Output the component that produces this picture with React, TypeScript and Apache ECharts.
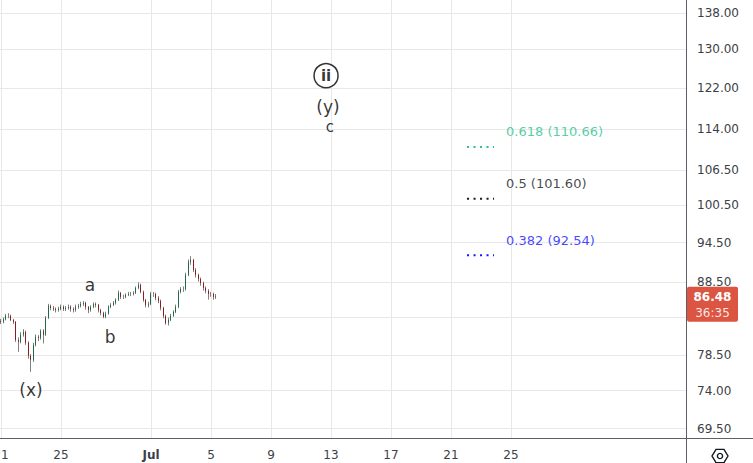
import React, { useEffect, useRef } from "react";
import * as echarts from "echarts";

// x axis: days counted from Jun 21
const xTickDays = [0, 4, 10, 14, 18, 22, 26, 30, 34];
const xTickLabels = ["21", "25", "Jul", "5", "9", "13", "17", "21", "25"];
const yTickPrices = [69.5, 74, 78.5, 83.5, 88.5, 94.5, 100.5, 106.5, 114, 122, 130, 138];

const candleStartDay = 0;
const candleStepDay = 1 / 6;
// [open, close, low, high]
const candles: number[][] = [
  [83.0, 82.9, 82.6, 83.3], [82.9, 83.24, 82.7, 83.5], [83.24, 83.72, 83.1, 84.0], [83.72, 83.72, 83.4, 84.1],
  [83.72, 83.17, 83.0, 83.9], [83.17, 82.9, 82.6, 83.3], [82.9, 80.47, 80.2, 83.0], [80.47, 80.2, 78.9, 80.8],
  [80.2, 81.14, 80.0, 81.5], [81.14, 81.54, 80.9, 81.9], [81.54, 80.07, 79.8, 81.7], [80.07, 78.37, 78.0, 80.3],
  [78.37, 77.86, 76.33, 78.6], [77.86, 79.81, 77.6, 80.1], [79.81, 80.87, 79.6, 81.2], [80.87, 80.74, 80.3, 81.1],
  [80.74, 81.68, 80.5, 81.9], [81.68, 81.14, 80.0, 81.9], [81.14, 83.45, 81.0, 83.7], [83.45, 85.11, 83.3, 85.4],
  [85.11, 84.83, 84.5, 85.3], [84.83, 84.69, 84.4, 85.1], [84.69, 84.55, 84.2, 84.9], [84.55, 84.69, 84.3, 85.0],
  [84.69, 84.97, 84.5, 85.3], [84.97, 84.69, 84.4, 85.2], [84.69, 84.83, 84.4, 85.1], [84.83, 84.97, 84.6, 85.3],
  [84.97, 84.69, 84.3, 85.2], [84.69, 84.55, 84.2, 84.9], [84.55, 84.97, 84.3, 85.3], [84.97, 85.11, 84.7, 85.4],
  [85.11, 85.39, 84.9, 85.7], [85.39, 85.53, 85.1, 85.8], [85.53, 84.97, 84.6, 85.7], [84.97, 84.55, 84.1, 85.1],
  [84.55, 84.97, 84.3, 85.2], [84.97, 85.39, 84.8, 85.6], [85.39, 85.25, 84.9, 85.6], [85.25, 84.55, 84.2, 85.4],
  [84.55, 84.13, 83.8, 84.7], [84.13, 83.58, 83.4, 84.3], [83.58, 84.0, 83.4, 84.3], [84.0, 84.97, 83.9, 85.2],
  [84.97, 85.25, 84.8, 85.5], [85.25, 85.53, 85.1, 85.8], [85.53, 85.96, 85.3, 86.2], [85.96, 86.96, 85.8, 87.3],
  [86.96, 86.39, 86.1, 87.1], [86.39, 86.39, 86.1, 86.7], [86.39, 86.67, 86.2, 86.9], [86.67, 86.81, 86.5, 87.1],
  [86.81, 86.81, 86.5, 87.1], [86.81, 86.96, 86.6, 87.2], [86.96, 87.68, 86.8, 87.9], [87.68, 88.11, 87.5, 88.5],
  [88.11, 87.1, 86.9, 88.3], [87.1, 85.96, 85.7, 87.3], [85.96, 85.25, 84.9, 86.1], [85.25, 85.39, 84.9, 85.7],
  [85.39, 86.81, 85.2, 87.1], [86.81, 86.81, 86.4, 87.1], [86.81, 86.24, 85.9, 87.0], [86.24, 85.82, 85.5, 86.5],
  [85.82, 84.83, 84.5, 86.0], [84.83, 83.72, 83.4, 85.0], [83.72, 82.76, 82.5, 83.9], [82.76, 83.17, 82.4, 83.5],
  [83.17, 83.72, 83.0, 84.0], [83.72, 84.27, 83.6, 84.5], [84.27, 84.97, 84.1, 85.3], [84.97, 87.1, 84.8, 87.4],
  [87.1, 87.53, 86.9, 87.8], [87.53, 87.53, 87.1, 87.9], [87.53, 89.58, 87.3, 89.9], [89.58, 91.53, 89.4, 91.9],
  [91.53, 91.83, 91.1, 92.4], [91.83, 90.32, 90.0, 92.0], [90.32, 89.58, 89.2, 90.6], [89.58, 88.99, 88.6, 89.8],
  [88.99, 88.4, 88.0, 89.2], [88.4, 87.68, 87.3, 88.6], [87.68, 87.25, 86.9, 87.9], [87.25, 86.81, 86.0, 87.5],
  [86.81, 86.81, 86.4, 87.1], [86.81, 86.39, 86.0, 87.0], [86.39, 86.48, 86.1, 86.8],
];

const lastPrice = 86.48;
const countdown = "36:35";

const waveLabels = ["(y)", "c", "a", "b", "(x)"];
const waveDays = [21.8, 21.93, 5.93, 7.27, 2.0];
const wavePrices = [118.2, 114.4, 88.1, 80.9, 74.1];
const waveSizes = [17, 15, 17, 17, 17];
const circledLabel = "ii";
const circledDay = 21.67;
const circledPrice = 124.5;

const fibRatios = ["0.618", "0.5", "0.382"];
const fibPrices = [110.66, 101.6, 92.54];
const fibColors = ["#2bbf8e", "#131722", "#1414ff"];
const fibStartDay = 31.07;
const fibEndDay = 32.87;

const X_MIN = -1 / 15;
const X_MAX = 45.667;
const Y_MIN = 68.43;
const Y_MAX = 141.07;

const FONT = "DejaVu Sans";
const ln = Math.log;

export default function App() {
  const ref = useRef<HTMLDivElement>(null);
  useEffect(() => {
    document.body.style.margin = "0";
    if (!ref.current) return;
    const chart = echarts.init(ref.current, undefined, { renderer: "svg" });

    const wickData = candles.map((c, i) => [
      candleStartDay + i * candleStepDay, ln(c[0]), ln(c[1]), ln(c[2]), ln(c[3]),
    ]);
    const bodyData = candles.map((c, i) => [
      candleStartDay + i * candleStepDay, ln(c[0]), ln(c[1]),
      ln(Math.min(c[0], c[1])), ln(Math.max(c[0], c[1])),
    ]);

    const fibLineSeries = fibPrices.map((p, k) => ({
      type: "line",
      data: [[fibStartDay, ln(p)], [fibEndDay, ln(p)]],
      symbol: "none",
      silent: true,
      lineStyle: { color: fibColors[k], width: 2, type: [2, 4.5] },
      z: 5,
    }));

    const fibLabelSeries = {
      type: "scatter",
      symbolSize: 0,
      silent: true,
      data: fibPrices.map((p, k) => ({
        value: [fibEndDay, ln(p)],
        label: {
          show: true,
          position: "right",
          distance: 12,
          offset: [0, -15],
          formatter: `${fibRatios[k]} (${p.toFixed(2)})`,
          color: fibColors[k],
          fontFamily: FONT,
          fontSize: 13,
        },
      })),
      z: 6,
    };

    const waveSeries = {
      type: "scatter",
      symbolSize: 0,
      silent: true,
      data: waveLabels.map((t, k) => ({
        value: [waveDays[k], ln(wavePrices[k])],
        label: {
          show: true,
          position: "inside",
          formatter: t,
          color: "#000000",
          fontFamily: FONT,
          fontSize: waveSizes[k],
        },
      })),
      z: 6,
    };

    const circledSeries = {
      type: "scatter",
      symbol: "circle",
      symbolSize: 24,
      silent: true,
      itemStyle: { color: "#ffffff", borderColor: "#000000", borderWidth: 1.5 },
      data: [
        {
          value: [circledDay, ln(circledPrice)],
          label: {
            show: true,
            position: "inside",
            formatter: circledLabel,
            color: "#000000",
            fontFamily: FONT,
            fontSize: 15,
            fontWeight: "bold",
          },
        },
      ],
      z: 6,
    };

    chart.setOption({
      animation: false,
      grid: { left: 0, right: 67, top: 0, bottom: 25, containLabel: false, outerBoundsMode: "none" },
      xAxis: {
        type: "value",
        min: X_MIN,
        max: X_MAX,
        axisLine: { show: false },
        axisTick: { show: false, customValues: xTickDays },
        splitLine: { show: true, lineStyle: { color: "#e8e8e8", width: 1 } },
        axisLabel: {
          customValues: xTickDays,
          margin: 11,
          fontFamily: FONT,
          fontSize: 12,
          color: "#3c3f48",
          formatter: (v: number) => {
            const idx = xTickDays.findIndex((d) => Math.abs(d - v) < 1e-6);
            const t = idx >= 0 ? xTickLabels[idx] : "";
            return t === "Jul" ? "{b|Jul}" : t;
          },
          rich: { b: { fontFamily: FONT, fontSize: 12, fontWeight: "bold", color: "#3c3f48" } },
        },
      },
      yAxis: {
        type: "value",
        position: "right",
        min: ln(Y_MIN),
        max: ln(Y_MAX),
        axisLine: { show: false },
        axisTick: { show: false, customValues: yTickPrices.map(ln) },
        splitLine: { show: true, lineStyle: { color: "#e8e8e8", width: 1 } },
        axisLabel: {
          customValues: yTickPrices.map(ln),
          margin: 11,
          fontFamily: FONT,
          fontSize: 12,
          color: "#3c3f48",
          formatter: (v: number) => Math.exp(v).toFixed(2),
        },
      },
      series: [
        {
          type: "candlestick",
          data: wickData,
          encode: { x: 0, y: [1, 2, 3, 4] },
          barWidth: 1,
          silent: true,
          itemStyle: {
            color: "#808080", color0: "#808080",
            borderColor: "#808080", borderColor0: "#808080", borderColorDoji: "#808080",
            borderWidth: 1,
          },
          z: 2,
        },
        {
          type: "candlestick",
          data: bodyData,
          encode: { x: 0, y: [1, 2, 3, 4] },
          barWidth: 1,
          silent: true,
          itemStyle: {
            color: "#1e6b47", color0: "#8b1d1d",
            borderColor: "#1e6b47", borderColor0: "#8b1d1d", borderColorDoji: "#555555",
            borderWidth: 1,
          },
          z: 3,
        },
        ...fibLineSeries,
        fibLabelSeries,
        waveSeries,
        circledSeries,
      ],
    });

    const py = chart.convertToPixel({ gridIndex: 0 } as any, [0, ln(lastPrice)])[1] as number;
    const cx = 720, cy = 456, r = 8;
    const hex: number[][] = [];
    for (let k = 0; k < 6; k++) {
      const a = (Math.PI / 3) * k;
      hex.push([cx + r * Math.cos(a), cy + r * Math.sin(a) * 0.95]);
    }
    chart.setOption({
      graphic: [
        { type: "line", shape: { x1: 686.5, y1: 0, x2: 686.5, y2: 463 }, style: { stroke: "#5d606b", lineWidth: 1 }, z: 20 },
        { type: "line", shape: { x1: 0, y1: 438.5, x2: 753, y2: 438.5 }, style: { stroke: "#5d606b", lineWidth: 1 }, z: 20 },
        { type: "polygon", shape: { points: hex }, style: { fill: "none", stroke: "#131722", lineWidth: 1.4 }, z: 20 },
        { type: "circle", shape: { cx, cy, r: 2.6 }, style: { fill: "none", stroke: "#131722", lineWidth: 1.4 }, z: 20 },
        { type: "rect", shape: { x: 687, y: py - 9.5, width: 51, height: 35, r: 2 }, style: { fill: "#dc5442" }, z: 30 },
        {
          type: "text", x: 712.5, y: py + 0.5, z: 31,
          style: { text: lastPrice.toFixed(2), fill: "#ffffff", font: `bold 12px '${FONT}'`, align: "center", verticalAlign: "middle" },
        },
        {
          type: "text", x: 712.5, y: py + 16.5, z: 31,
          style: { text: countdown, fill: "rgba(255,255,255,0.88)", font: `12px '${FONT}'`, align: "center", verticalAlign: "middle" },
        },
      ],
    });

    return () => chart.dispose();
  }, []);
  return <div ref={ref} style={{ width: 753, height: 463 }} />;
}
